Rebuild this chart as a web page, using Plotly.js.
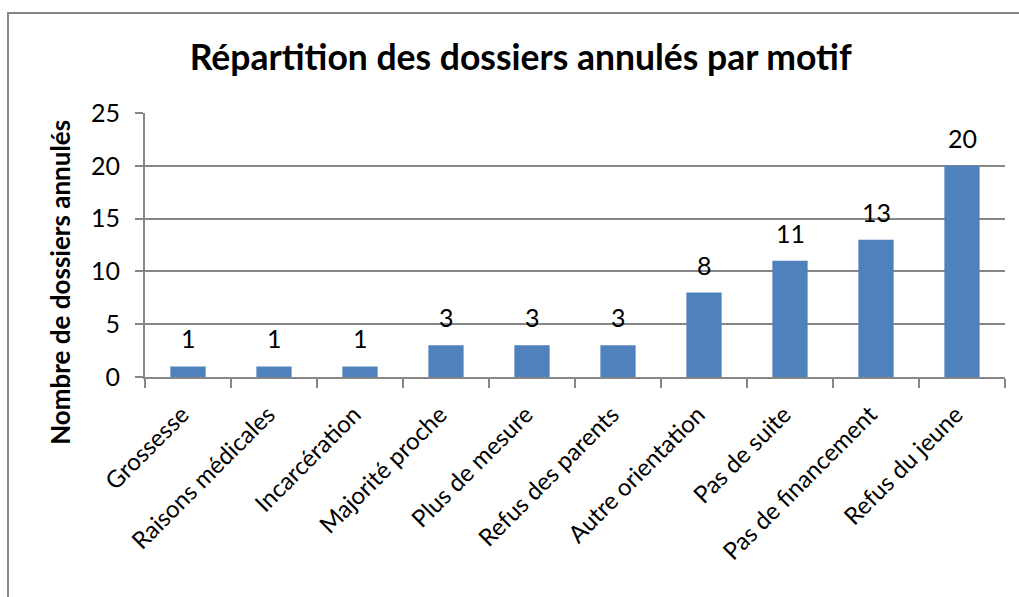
<!DOCTYPE html>
<html><head><meta charset="utf-8">
<script src="https://cdn.plot.ly/plotly-3.0.1.min.js"></script>
<style>html,body{margin:0;padding:0;background:#fff}#chart{width:1019px;height:597px}</style>
</head><body><div id="chart"></div>
<script>
const categories = ["Grossesse","Raisons médicales","Incarcération","Majorité proche","Plus de mesure","Refus des parents","Autre orientation","Pas de suite","Pas de financement","Refus du jeune"];
const values = [1,1,1,3,3,3,8,11,13,20];
const yTicks = [0,5,10,15,20,25];
const yTitle = 'Nombre de dossiers annulés';

const font = "Lato, Carlito, sans-serif";
const annotations = categories.map((c,i)=>({
  x:c, y:values[i], xref:'x', yref:'y', text:String(values[i]),
  showarrow:false, yanchor:'bottom', yshift:11,
  font:{family:font,size:25,color:'#000'}
}));
annotations.push({
  xref:'paper', yref:'paper', x:-0.099, y:0.36, xanchor:'center', yanchor:'middle',
  text:'<b>'+yTitle+'</b>', textangle:-90, showarrow:false,
  font:{family:font,size:26,color:'#000'}
});

const data = [{
  type:'bar', x:categories, y:values,
  marker:{color:'#4f81bd', line:{width:0}},
  hoverinfo:'x+y'
}];
const layout = {
  width:1019, height:597,
  margin:{l:145,r:14,t:113,b:220},
  paper_bgcolor:'#fff', plot_bgcolor:'#fff',
  bargap:0.59,
  showlegend:false,
  font:{family:font,color:'#000'},
  title:{text:'<b>Répartition des dossiers annulés par motif</b>', font:{family:font,size:35.5,color:'#000'}, x:0.511, xanchor:'center', y:0.903, yanchor:'middle'},
  xaxis:{type:'category', tickangle:-45, tickfont:{family:font,size:24,color:'#000'},
    showline:true, linecolor:'#868686', linewidth:2, ticks:'outside', ticklen:9, tickcolor:'#868686', tickwidth:2,
    ticklabelstandoff:12, ticklabelshift:-6,
    tickson:'boundaries', showgrid:false, fixedrange:true, automargin:false},
  yaxis:{range:[0,25], tickvals:yTicks, ticktext:yTicks.map(String), tickfont:{family:font,size:25,color:'#000'},
    showline:true, linecolor:'#868686', linewidth:2, ticks:'outside', ticklen:8, tickcolor:'#868686', tickwidth:2,
    ticklabelstandoff:10,
    showgrid:true, gridcolor:'#868686', gridwidth:2, zeroline:false, automargin:false},
  annotations:annotations,
  shapes:[{type:'rect', xref:'paper', yref:'paper', x0:-0.1593, x1:1.2, y0:-1.2, y1:1.3788, line:{color:'#868686',width:2}, fillcolor:'rgba(0,0,0,0)', layer:'below'}]
};
Plotly.newPlot('chart', data, layout, {displayModeBar:false, staticPlot:true});
</script></body></html>
